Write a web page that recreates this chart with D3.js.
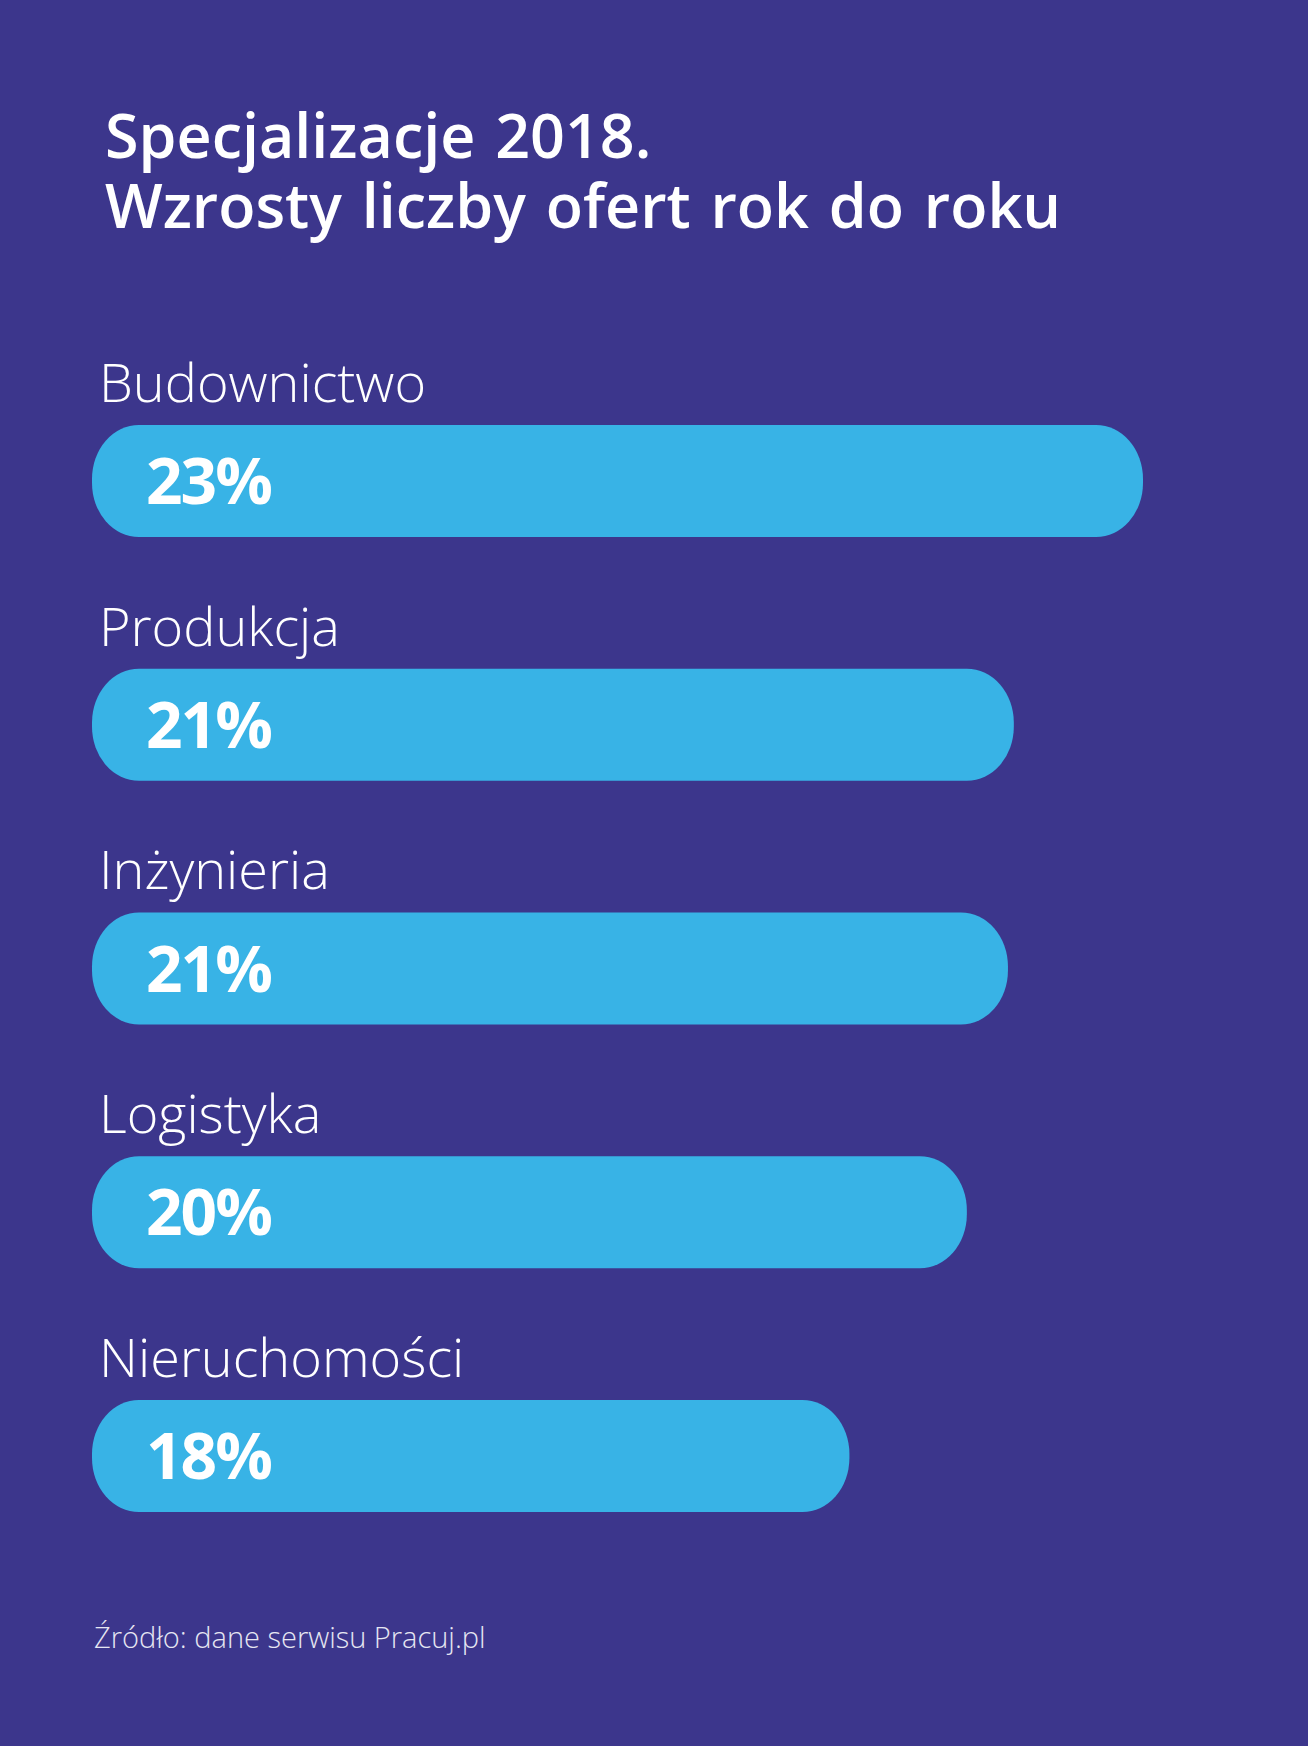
<!DOCTYPE html>
<html lang="pl">
<head>
<meta charset="utf-8">
<script src="https://cdn.jsdelivr.net/npm/d3@7"></script>
<style>
  html, body { margin: 0; padding: 0; background: #3C368C; }
  svg { display: block; }
</style>
</head>
<body>
<script>
const titleLines = ["Specjalizacje 2018.", "Wzrosty liczby ofert rok do roku"];
const categories = ["Budownictwo", "Produkcja", "Inżynieria", "Logistyka", "Nieruchomości"];
const values = [23, 20.8, 20.7, 20, 18];
const valueLabels = ["23%", "21%", "21%", "20%", "18%"];
const sourceNote = "Źródło: dane serwisu Pracuj.pl";

const W = 1308, H = 1746;
const BG = "#3C368C", BAR = "#38B3E6";

const svg = d3.select("body").append("svg").attr("width", W).attr("height", H);
svg.append("rect").attr("width", W).attr("height", H).attr("fill", BG);

// Title (one text element, two lines)
const title = svg.append("text")
  .attr("x", 105)
  .attr("y", 158)
  .attr("fill", "#ffffff")
  .attr("font-family", "'Open Sans', sans-serif")
  .attr("font-weight", 600)
  .attr("font-size", 61)
  .attr("word-spacing", 4);
title.selectAll("tspan").data(titleLines).join("tspan")
  .attr("x", 105)
  .attr("dy", (d, i) => i === 0 ? 0 : 70)
  .text(d => d);

const data = categories.map((c, i) => ({ cat: c, v: values[i], label: valueLabels[i] }));

const y = d3.scaleBand().domain(categories).range([425, 1512]).paddingInner(0.5405).paddingOuter(0);
const x = d3.scaleLinear().domain([5.1, 23]).range([92, 1143]);

const rows = svg.append("g").selectAll("g").data(data).join("g");

rows.append("rect")
  .attr("x", x.range()[0])
  .attr("y", d => y(d.cat))
  .attr("width", d => x(d.v) - x.range()[0])
  .attr("height", y.bandwidth())
  .attr("rx", 47).attr("ry", 54)
  .attr("fill", BAR);

rows.append("text")
  .attr("x", 99)
  .attr("y", d => y(d.cat) - 23)
  .attr("fill", "#ffffff")
  .attr("font-family", "'Open Sans', sans-serif")
  .attr("font-weight", 300)
  .attr("font-size", 54)
  .text(d => d.cat);

rows.append("text")
  .attr("x", 146)
  .attr("y", d => y(d.cat) + y.bandwidth() / 2 + 23)
  .attr("fill", "#ffffff")
  .attr("font-family", "'Open Sans', sans-serif")
  .attr("font-weight", 700)
  .attr("font-size", 64)
  .attr("letter-spacing", -2)
  .text(d => d.label);

svg.append("text")
  .attr("x", 94)
  .attr("y", 1648)
  .attr("fill", "#E6E6F2")
  .attr("font-family", "'Open Sans', sans-serif")
  .attr("font-weight", 300)
  .attr("font-size", 29)
  .text(sourceNote);
</script>
</body>
</html>
